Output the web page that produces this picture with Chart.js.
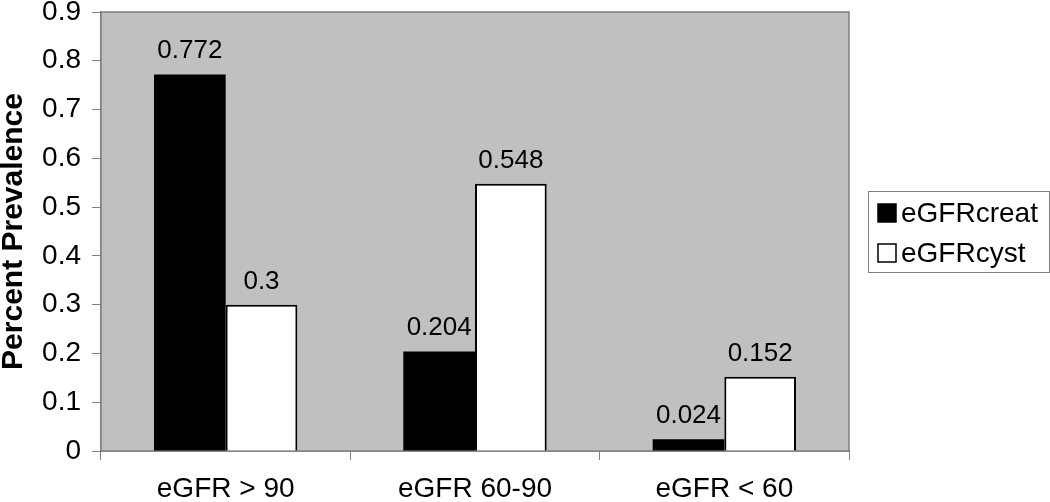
<!DOCTYPE html>
<html>
<head>
<meta charset="utf-8">
<script src="https://cdn.jsdelivr.net/npm/chart.js@4.4.0/dist/chart.umd.min.js"></script>
<style>
  html, body { margin: 0; padding: 0; background: #fff; }
  #wrap { width: 1050px; height: 502px; }
</style>
</head>
<body>
<div id="wrap"><canvas id="chart" width="1050" height="502"></canvas></div>
<script>
const categories = ['eGFR > 90', 'eGFR 60-90', 'eGFR < 60'];
const seriesNames = ['eGFRcreat', 'eGFRcyst'];
const creatValues = [0.772, 0.204, 0.024];
const cystValues = [0.3, 0.548, 0.152];
const yTickLabels = ['0', '0.1', '0.2', '0.3', '0.4', '0.5', '0.6', '0.7', '0.8', '0.9'];

const FONT = "'Liberation Sans', Arial, sans-serif";

// gray plot area + frame
const plotBackground = {
  id: 'plotBackground',
  beforeDatasetsDraw(chart) {
    const { ctx, chartArea: a } = chart;
    ctx.save();
    ctx.fillStyle = '#c0c0c0';
    ctx.fillRect(a.left, a.top, a.right - a.left, a.bottom - a.top);
    ctx.strokeStyle = '#808080';
    ctx.lineWidth = 1.5;
    ctx.strokeRect(a.left, a.top, a.right - a.left, a.bottom - a.top);
    ctx.restore();
  }
};

// value labels above the bars
const valueLabels = {
  id: 'valueLabels',
  afterDatasetsDraw(chart) {
    const ctx = chart.ctx;
    ctx.save();
    ctx.font = '26px ' + FONT;
    ctx.fillStyle = '#000';
    ctx.textAlign = 'center';
    ctx.textBaseline = 'alphabetic';
    chart.data.datasets.forEach((ds, i) => {
      chart.getDatasetMeta(i).data.forEach((bar, j) => {
        ctx.fillText(String(ds.data[j]), bar.x, bar.y - 16);
      });
    });
    ctx.restore();
  }
};

// boxed legend on the right
const boxLegend = {
  id: 'boxLegend',
  afterDraw(chart) {
    const ctx = chart.ctx;
    const x = 868, y = 191, w = 181, h = 81;
    ctx.save();
    ctx.strokeStyle = '#808080';
    ctx.lineWidth = 1;
    ctx.strokeRect(x + 0.5, y + 0.5, w, h);
    ctx.font = '28px ' + FONT;
    ctx.textBaseline = 'middle';
    chart.data.datasets.forEach((ds, i) => {
      const cy = y + 22 + i * 40;
      ctx.fillStyle = ds.backgroundColor;
      ctx.fillRect(878, cy - 9, 18, 18);
      ctx.strokeStyle = '#000';
      ctx.lineWidth = 1.5;
      ctx.strokeRect(878, cy - 9, 18, 18);
      ctx.fillStyle = '#000';
      ctx.fillText(ds.label, 901, cy + 1);
    });
    ctx.restore();
  }
};

new Chart(document.getElementById('chart'), {
  type: 'bar',
  data: {
    labels: categories,
    datasets: [
      {
        label: seriesNames[0],
        data: creatValues,
        backgroundColor: '#000000',
        borderColor: '#000000',
        borderWidth: 0,
        categoryPercentage: 0.575,
        barPercentage: 1.0
      },
      {
        label: seriesNames[1],
        data: cystValues,
        backgroundColor: '#ffffff',
        borderColor: '#000000',
        borderWidth: 2,
        borderSkipped: 'bottom',
        categoryPercentage: 0.575,
        barPercentage: 1.0
      }
    ]
  },
  options: {
    responsive: false,
    animation: false,
    layout: { padding: { top: 12, right: 201, bottom: 0, left: 0 } },
    plugins: {
      legend: { display: false },
      tooltip: { enabled: false }
    },
    scales: {
      x: {
        offset: true,
        grid: {
          offset: true,
          drawOnChartArea: false,
          drawTicks: true,
          tickLength: 9,
          color: '#808080'
        },
        border: { color: '#404040', width: 1.5 },
        ticks: {
          color: '#000',
          padding: 12,
          font: { family: FONT, size: 28 }
        },
        afterFit(scale) {
          scale.height = 51;
          scale.paddingLeft = 0;
          scale.paddingRight = 0;
        }
      },
      y: {
        min: 0,
        max: 0.9,
        ticks: {
          stepSize: 0.1,
          color: '#000',
          padding: 11,
          font: { family: FONT, size: 28 },
          callback: (v, i) => yTickLabels[i]
        },
        grid: {
          drawOnChartArea: false,
          drawTicks: true,
          tickLength: 9,
          color: '#808080'
        },
        border: { color: '#808080', width: 1.5 },
        title: {
          display: true,
          text: 'Percent Prevalence',
          color: '#000',
          padding: { top: -4, bottom: 0 },
          font: { family: FONT, size: 30, weight: 'bold' }
        },
        afterFit(scale) {
          scale.width = 101;
          scale.paddingTop = 0;
          scale.paddingBottom = 0;
        }
      }
    }
  },
  plugins: [plotBackground, valueLabels, boxLegend]
});
</script>
</body>
</html>
